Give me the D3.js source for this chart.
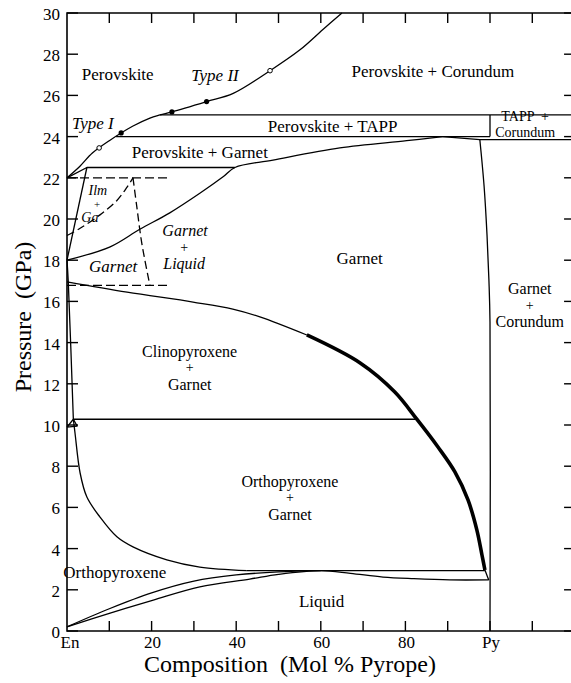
<!DOCTYPE html>
<html><head><meta charset="utf-8">
<script src="https://cdn.jsdelivr.net/npm/d3@7"></script>
<style>
body{margin:0;background:#fff}
svg{display:block}
text{font-family:"Liberation Serif","Times New Roman",serif;fill:#000}
</style>
</head><body>
<svg id="chart" width="571" height="683"></svg>
<script>
// ---------- data (composition in mol % pyrope, pressure in GPa) ----------
const pressureTicks = [0,2,4,6,8,10,12,14,16,18,20,22,24,26,28,30];
const compositionTicks = [10,20,30,40,50,60,70,80,90,100,110];
const compositionLabelValues = [0,20,40,60,80,100];
const compositionLabels = ["En","20","40","60","80","Py"];

// Type I / Type II boundary
const typeCurve = [[0,22],[3,22.55],[6,23.2],[10,23.8],[15.5,24.5],[19.6,24.9],[22,25.05],[24.8,25.2],[33,25.7],[39.3,26.1],[48,27.2],[55,28.2],[60.5,29.2],[65,30]];
const openPoints = [[7.6,23.45],[48,27.2]];
const filledPoints = [[12.8,24.18],[24.8,25.2],[33,25.7]];

const tappTop = [[22,25.05],[119.5,25.05]];
const tappBottom = [[11.6,24.0],[100,24.0]];
const pyTappDivider = [[100,25.05],[100,24.0]];
const corundumBoxBottom = [[88.8,24.0],[97.6,23.85],[119.5,23.85]];
const pvGtBottom = [[0,22],[4.7,22.5],[39.7,22.5]];
const enGarnetSolvus = [[4.7,22.5],[0,18]];
const garnetUpper = [[0,18],[10.2,18.65],[17.2,19.5],[24.3,20.3],[31.4,21.25],[36.9,22.05],[39.7,22.5],[48.7,22.86],[64.5,23.45],[80.3,23.8],[88.8,24.0]];
const garnetCorundum = [[97.6,23.85],[98.6,21.6],[99.3,19.2],[99.75,17],[100,15],[100,0]];

const cpxLeft = [[0,18],[0.3,16.95],[1.5,10.28]];
const cpxTriangle = [[0,9.9],[1.5,10.28],[2.4,9.95],[0,9.9]];
const cpxGtThin = [[0,16.95],[14.2,16.45],[29.8,15.97],[39.2,15.63],[45.6,15.25],[56.7,14.37]];
const gtThick = [[56.7,14.37],[69.3,13.01],[77.5,11.6],[82.7,10.28],[87.7,8.93],[91.7,7.72],[94.8,6.36],[96.9,4.9],[98.1,3.69],[98.8,2.96]];
const cpxOpx = [[1.5,10.28],[82.7,10.28]];
const opxTop = [[1.5,10.28],[1.9,9.6],[3.1,7.67],[4.7,6.5],[7.8,5.53],[11.8,4.57],[15.6,4.08],[23.6,3.45],[31.4,3.1],[42.5,2.93]];
const opxGtBottom = [[42.5,2.93],[98.8,2.93]];
const gtEnd = [[98.8,2.96],[99.7,2.48]];
const opxLower = [[0,0.2],[10,1.08],[20,1.85],[30,2.42],[40,2.72],[50,2.87],[60,2.93]];
const liquidus = [[0,0.2],[10.2,0.87],[20.4,1.5],[31.4,2.14],[43.2,2.52],[50,2.75],[60,2.93],[67,2.8],[74.7,2.62],[82,2.54],[90.5,2.48],[99.7,2.48]];

// dashed boundaries
const dashTop = [[0,22],[24.4,22]];
const dashBottom = [[0,16.78],[24.4,16.78]];
const ilmCurve = [[0,19.2],[3.1,19.55],[7.8,20.2],[11.8,20.9],[14.2,21.55],[15.6,22.0]];
const liqDash = [[15.6,22.0],[16.5,20.6],[17.7,18.8],[19.6,16.78]];

// field labels: lines of [text, composition, pressure, italic, fontSize]
const fieldLabels = [
  [["Perovskite",12.0,27.04,false,17]],
  [["Type II",35,27.0,true,17]],
  [["Perovskite + Corundum",86.5,27.2,false,17]],
  [["Type I",6.1,24.66,true,17]],
  [["Perovskite + TAPP",62.8,24.5,false,17]],
  [["TAPP  +",108.3,24.98,false,14],["Corundum",108.3,24.2,false,14]],
  [["Perovskite + Garnet",31.4,23.25,false,17]],
  [["Ilm",7.3,21.38,true,14],["+",7.1,20.73,false,11],["Ga",5.4,20.07,true,14]],
  [["Garnet",10.9,17.72,true,17]],
  [["Garnet",27.9,19.47,true,16],["+",27.7,18.66,false,14],["Liquid",27.7,17.85,true,16]],
  [["Garnet",69.2,18.1,false,17]],
  [["Garnet",109.4,16.63,false,16],["+",109.4,15.82,false,14],["Corundum",109.4,15.01,false,16]],
  [["Clinopyroxene",29,13.59,false,16],["+",29,12.79,false,14],["Garnet",29,11.98,false,16]],
  [["Orthopyroxene",52.7,7.28,false,16],["+",52.7,6.48,false,14],["Garnet",52.7,5.67,false,16]],
  [["Orthopyroxene",11.3,2.86,false,17]],
  [["Liquid",60.2,1.46,false,17]]
];

// ---------- drawing ----------
const svg = d3.select("#chart");
const x = d3.scaleLinear().domain([0,100]).range([67,490]);
const y = d3.scaleLinear().domain([0,30]).range([631,13]);
const xMax = 119.4;

const line = d3.line().x(d=>x(d[0])).y(d=>y(d[1]));
const smooth = d3.line().x(d=>x(d[0])).y(d=>y(d[1])).curve(d3.curveCatmullRom.alpha(0.5));

const g = svg.append("g");

function path(data, gen, w, dash){
  const p = g.append("path").attr("d", gen(data)).attr("fill","none")
    .attr("stroke","#000").attr("stroke-width", w)
    .attr("stroke-linejoin","round").attr("stroke-linecap","butt");
  if (dash) p.attr("stroke-dasharray", dash);
  return p;
}

// straight segments
[tappTop, tappBottom, pyTappDivider, corundumBoxBottom, pvGtBottom, enGarnetSolvus,
 cpxTriangle, cpxOpx, opxGtBottom, gtEnd].forEach(d=>path(d, line, 1.3));
// curves
[typeCurve, garnetUpper, garnetCorundum, cpxLeft, cpxGtThin, opxTop, opxLower, liquidus]
  .forEach(d=>path(d, smooth, 1.3));
path(gtThick, smooth, 3.6);
// dashed
[dashTop, dashBottom].forEach(d=>path(d, line, 1.3, "9,4"));
[ilmCurve, liqDash].forEach(d=>path(d, smooth, 1.3, "8,4"));

// markers
g.selectAll("circle.open").data(openPoints).join("circle").attr("class","open")
  .attr("cx",d=>x(d[0])).attr("cy",d=>y(d[1])).attr("r",2.3)
  .attr("fill","#fff").attr("stroke","#000").attr("stroke-width",1);
g.selectAll("circle.fill").data(filledPoints).join("circle").attr("class","fill")
  .attr("cx",d=>x(d[0])).attr("cy",d=>y(d[1])).attr("r",2.6).attr("fill","#000");

// frame
const x0 = x(0), x1 = x(xMax), y0 = y(0), y1 = y(30);
svg.append("path").attr("d",`M${x0},${y0}V${y1}H${x1}V${y0}Z`)
  .attr("fill","none").attr("stroke","#000").attr("stroke-width",1.6);

// ticks
const ax = svg.append("g").attr("stroke","#000").attr("stroke-width",1.4);
pressureTicks.forEach(p=>{
  ax.append("line").attr("x1",x0).attr("x2",x0+11).attr("y1",y(p)).attr("y2",y(p));
  ax.append("line").attr("x1",x1-8).attr("x2",x1).attr("y1",y(p)).attr("y2",y(p));
});
compositionTicks.forEach(c=>{
  ax.append("line").attr("x1",x(c)).attr("x2",x(c)).attr("y1",y0).attr("y2",y0-10);
  ax.append("line").attr("x1",x(c)).attr("x2",x(c)).attr("y1",y1).attr("y2",y1+10);
});

// tick labels
svg.append("g").selectAll("text").data(pressureTicks).join("text")
  .attr("x",60).attr("y",d=>y(d)+1).attr("dy","0.35em").attr("text-anchor","end")
  .attr("font-size",17).text(d=>d);
svg.append("g").selectAll("text").data(compositionLabelValues).join("text")
  .attr("x",(d,i)=>x(d)+(i===0?3:1)).attr("y",648).attr("text-anchor","middle")
  .attr("font-size",17).text((d,i)=>compositionLabels[i]);

// axis titles
svg.append("text").attr("x",290).attr("y",672).attr("text-anchor","middle")
  .attr("font-size",24).style("white-space","pre")
  .text("Composition  (Mol % Pyrope)");
svg.append("text").attr("transform","translate(31,317) rotate(-90)")
  .attr("text-anchor","middle").attr("font-size",24).style("white-space","pre")
  .text("Pressure  (GPa)");

// field labels (multi-line labels are one text element with tspans)
const lbl = svg.append("g").selectAll("text").data(fieldLabels).join("text")
  .attr("text-anchor","middle").style("white-space","pre");
lbl.each(function(lines){
  const t = d3.select(this);
  lines.forEach(l=>{
    t.append("tspan").attr("x",x(l[1])).attr("y",y(l[2])).attr("dy","0.35em")
      .attr("font-size",l[4]).attr("font-style",l[3]?"italic":"normal").text(l[0]);
  });
});
</script>
</body></html>
